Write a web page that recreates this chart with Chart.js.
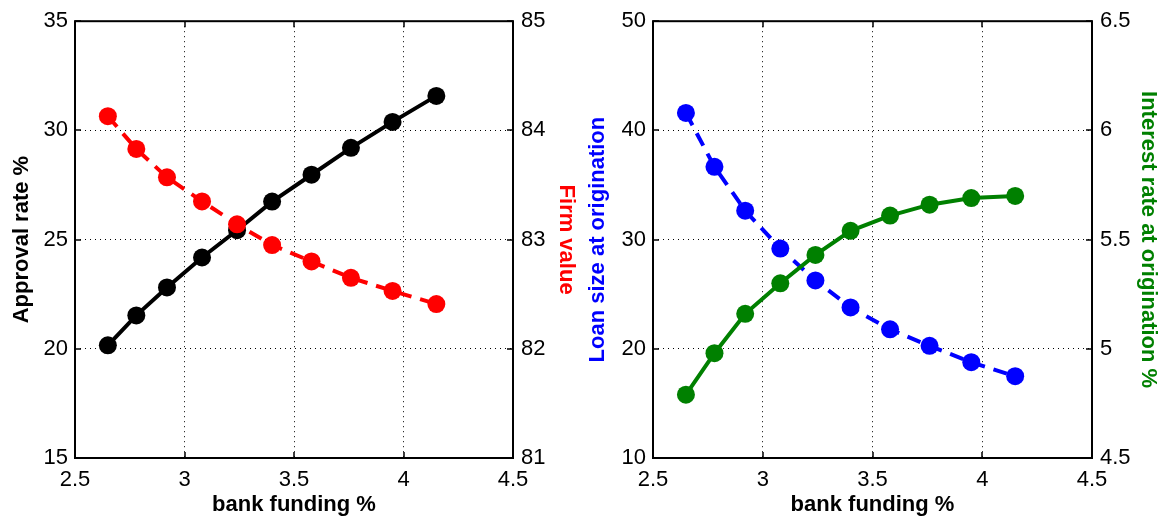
<!DOCTYPE html>
<html>
<head>
<meta charset="utf-8">
<script src="https://cdn.jsdelivr.net/npm/chart.js@4.4.1/dist/chart.umd.min.js"></script>
<style>
html,body{margin:0;padding:0;background:#fff;}
#wrap{position:relative;width:1164px;height:519px;}
canvas{position:absolute;top:0;}
</style>
</head>
<body>
<div id="wrap">
<canvas id="c1" width="582" height="519" style="left:0"></canvas>
<canvas id="c2" width="582" height="519" style="left:582px"></canvas>
</div>
<script>
// ---- data ----
const bankFunding = [2.65, 2.78, 2.92, 3.08, 3.24, 3.40, 3.58, 3.76, 3.95, 4.15];
const approvalRate = [20.16, 21.53, 22.81, 24.18, 25.43, 26.74, 27.97, 29.20, 30.39, 31.58];
const firmValue = [84.13, 83.83, 83.57, 83.35, 83.14, 82.95, 82.80, 82.65, 82.53, 82.41];
const loanSize = [41.6, 36.67, 32.65, 29.18, 26.26, 23.79, 21.78, 20.27, 18.77, 17.49];
const interestRate = [4.79, 4.98, 5.16, 5.30, 5.43, 5.54, 5.61, 5.66, 5.69, 5.70];

const xTicks = [2.5, 3, 3.5, 4, 4.5];
const approvalTicks = [15, 20, 25, 30, 35];
const firmTicks = [81, 82, 83, 84, 85];
const loanTicks = [10, 20, 30, 40, 50];
const rateTicks = [4.5, 5, 5.5, 6, 6.5];

const FONT = "'Liberation Sans', Arial, Helvetica, sans-serif";
const TICKFONT = {family: FONT, size: 22};
const TITLEFONT = {family: FONT, size: 22, weight: 'bold'};

function pts(xs, ys){ return xs.map((x,i)=>({x:x, y:ys[i]})); }

// frame + inward ticks
const framePlugin = {
  id: 'frame',
  afterDatasetsDraw(chart){
    const ctx = chart.ctx, a = chart.chartArea;
    ctx.save();
    ctx.strokeStyle = '#000';
    ctx.lineWidth = 1.5;
    const tl = 6;
    ctx.beginPath();
    const xs = chart.scales.x;
    xs.ticks.forEach(t=>{
      const px = Math.round(xs.getPixelForValue(t.value));
      ctx.moveTo(px, a.bottom); ctx.lineTo(px, a.bottom - tl);
      ctx.moveTo(px, a.top); ctx.lineTo(px, a.top + tl);
    });
    ['yL','yR'].forEach(id=>{
      const s = chart.scales[id];
      s.ticks.forEach(t=>{
        const py = Math.round(s.getPixelForValue(t.value));
        if (id==='yL'){ ctx.moveTo(a.left, py); ctx.lineTo(a.left + tl, py); }
        else { ctx.moveTo(a.right, py); ctx.lineTo(a.right - tl, py); }
      });
    });
    ctx.stroke();
    ctx.lineWidth = 2;
    ctx.strokeRect(a.left, a.top, a.right - a.left, a.bottom - a.top);
    ctx.restore();
  }
};

function tickList(arr){ return function(scale){ scale.ticks = arr.map(v=>({value:v})); }; }

function makeChart(id, cfg){
  const gridColor = (ctx)=> (ctx.index===0 || ctx.index===4) ? 'rgba(0,0,0,0)' : '#000';
  const ds = (data, axis, color, dash, order) => ({
    data: pts(bankFunding, data),
    yAxisID: axis,
    showLine: true,
    borderColor: color,
    backgroundColor: color,
    borderWidth: 4,
    borderDash: dash,
    pointRadius: 9,
    pointHoverRadius: 9,
    pointBorderWidth: 0,
    order: order
  });
  return new Chart(document.getElementById(id), {
    type: 'scatter',
    data: {
      datasets: [
        ds(cfg.leftData, 'yL', cfg.leftColor, cfg.leftDash, cfg.leftOrder),
        ds(cfg.rightData, 'yR', cfg.rightColor, cfg.rightDash, cfg.rightOrder)
      ]
    },
    options: {
      responsive: false,
      animation: false,
      devicePixelRatio: 1,
      layout: {padding: {top: 20, left: 0, right: 0, bottom: 0}},
      plugins: {legend: {display: false}, tooltip: {enabled: false}},
      clip: false,
      scales: {
        x: {
          type: 'linear', min: 2.5, max: 4.5,
          afterBuildTicks: tickList(xTicks),
          afterFit(s){ s.height = 61; },
          grid: {color: gridColor, lineWidth: 1, drawTicks: false},
          border: {display: false, dash: [1, 4]},
          ticks: {font: TICKFONT, color: '#000', padding: 9, maxRotation: 0, autoSkip: false,
                  callback: v => String(v)},
          title: {display: true, text: 'bank funding %', font: TITLEFONT, color: '#000', padding: {top: 0, bottom: 1}}
        },
        yL: {
          type: 'linear', position: 'left', min: cfg.leftMin, max: cfg.leftMax,
          afterBuildTicks: tickList(cfg.leftTicks),
          afterFit(s){ s.width = cfg.leftW; },
          grid: {color: gridColor, lineWidth: 1, drawTicks: false},
          border: {display: false, dash: [1, 4]},
          ticks: {font: TICKFONT, color: '#000', padding: 7, autoSkip: false, callback: v => String(v)},
          title: {display: true, text: cfg.leftTitle, font: TITLEFONT, color: cfg.leftTitleColor, padding: {top: cfg.leftTitlePad, bottom: 0}}
        },
        yR: {
          type: 'linear', position: 'right', min: cfg.rightMin, max: cfg.rightMax,
          afterBuildTicks: tickList(cfg.rightTicks),
          afterFit(s){ s.width = cfg.rightW; },
          grid: {display: false, drawTicks: false},
          border: {display: false},
          ticks: {font: TICKFONT, color: '#000', padding: 8, autoSkip: false, callback: v => String(v)},
          title: {display: true, text: cfg.rightTitle, font: TITLEFONT, color: cfg.rightTitleColor, padding: {top: 2.8, bottom: 0}}
        }
      }
    },
    plugins: [framePlugin]
  });
}

makeChart('c1', {
  leftData: approvalRate, leftColor: '#000000', leftDash: [], leftOrder: 1,
  rightData: firmValue, rightColor: '#ff0000', rightDash: [14, 9], rightOrder: 0,
  leftMin: 15, leftMax: 35, leftTicks: approvalTicks, leftW: 75,
  rightMin: 81, rightMax: 85, rightTicks: firmTicks, rightW: 69,
  leftTitle: 'Approval rate %', leftTitleColor: '#000000', leftTitlePad: 8.8,
  rightTitle: 'Firm value', rightTitleColor: '#ff0000'
});

makeChart('c2', {
  leftData: loanSize, leftColor: '#0000ff', leftDash: [14, 9], leftOrder: 1,
  rightData: interestRate, rightColor: '#008000', rightDash: [], rightOrder: 0,
  leftMin: 10, leftMax: 50, leftTicks: loanTicks, leftW: 71,
  rightMin: 4.5, rightMax: 6.5, rightTicks: rateTicks, rightW: 72,
  leftTitle: 'Loan size at origination', leftTitleColor: '#0000ff', leftTitlePad: 2.8,
  rightTitle: 'Interest rate at origination %', rightTitleColor: '#008000'
});
</script>
</body>
</html>
